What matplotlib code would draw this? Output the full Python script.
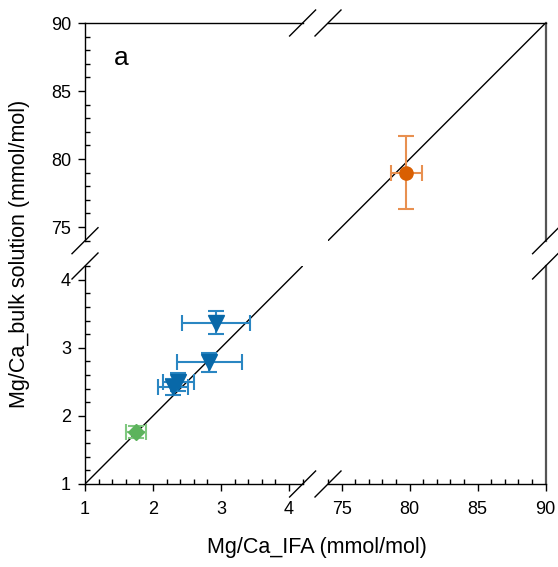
import numpy as np
import matplotlib
matplotlib.use('Agg')
import matplotlib.pyplot as plt
from matplotlib.lines import Line2D
from matplotlib.ticker import MultipleLocator

plt.rcParams['font.family'] = ['Liberation Sans', 'DejaVu Sans']

# data (Mg/Ca, mmol/mol)
blue_x    = [2.92, 2.83, 2.37, 2.30]
blue_xerr = [0.50, 0.48, 0.23, 0.22]
blue_y    = [3.37, 2.79, 2.50, 2.42]
blue_yerr = [0.17, 0.14, 0.13, 0.12]

green_x, green_xerr = [1.75], [0.145]
green_y, green_yerr = [1.76], [0.085]

orange_x, orange_xerr = [79.75], [1.15]
orange_y, orange_yerr = [79.0], [2.7]

low_lim  = (1, 4.2)
high_lim = (74, 90)

W, H = 558, 567
fig = plt.figure(figsize=(W/100, H/100), dpi=100)

# panel geometry in pixels
x0, x1, x2, x3 = 85, 302.6, 328, 545.6
y_top, y_b1, y_b2, y_bot = 23, 240.7, 266, 484

def px_axes(l, r, t, b):
    return fig.add_axes([l/W, 1-b/H, (r-l)/W, (b-t)/H])

ax_bl = px_axes(x0, x1, y_b2, y_bot)
ax_tl = px_axes(x0, x1, y_top, y_b1)
ax_br = px_axes(x2, x3, y_b2, y_bot)
ax_tr = px_axes(x2, x3, y_top, y_b1)

ax_bl.set_xlim(low_lim);  ax_bl.set_ylim(low_lim)
ax_tl.set_xlim(low_lim);  ax_tl.set_ylim(high_lim)
ax_br.set_xlim(high_lim); ax_br.set_ylim(low_lim)
ax_tr.set_xlim(high_lim); ax_tr.set_ylim(high_lim)

for ax in (ax_bl, ax_tl, ax_br, ax_tr):
    ax.patch.set_alpha(0)
    for s in ax.spines.values():
        s.set_visible(False)
        s.set_linewidth(1.0)
    ax.tick_params(which='major', direction='out', length=5, width=1, labelsize=13)
    ax.tick_params(which='minor', direction='in', length=3.5, width=1)
    ax.tick_params(left=False, bottom=False, labelleft=False, labelbottom=False,
                   which='both')

# left spine + y ticks
for ax, maj, mnr in ((ax_bl, 1, 0.2), (ax_tl, 5, 1)):
    ax.spines['left'].set_visible(True)
    ax.yaxis.set_major_locator(MultipleLocator(maj))
    ax.yaxis.set_minor_locator(MultipleLocator(mnr))
    ax.tick_params(axis='y', which='both', left=True)
    ax.tick_params(axis='y', which='major', labelleft=True, pad=5)

# bottom spine + x ticks
for ax, maj, mnr in ((ax_bl, 1, 0.2), (ax_br, 5, 1)):
    ax.spines['bottom'].set_visible(True)
    ax.xaxis.set_major_locator(MultipleLocator(maj))
    ax.xaxis.set_minor_locator(MultipleLocator(mnr))
    ax.tick_params(axis='x', which='both', bottom=True)
    ax.tick_params(axis='x', which='major', labelbottom=True, pad=7)

ax_tl.spines['top'].set_visible(True)
ax_tr.spines['top'].set_visible(True)
ax_tr.spines['right'].set_visible(True)
ax_br.spines['right'].set_visible(True)
for ax in (ax_tr, ax_br):
    ax.spines['right'].set_color('#555555')
    ax.spines['right'].set_linewidth(1.6)

# 1:1 line
ax_bl.plot(low_lim, low_lim, color='k', lw=1)
ax_tr.plot(high_lim, high_lim, color='k', lw=1)

eb = dict(linestyle='none', capsize=5.5, elinewidth=1.5, capthick=1.5, zorder=3)
ax_bl.errorbar(blue_x, blue_y, xerr=blue_xerr, yerr=blue_yerr, marker='v',
               ms=11, color='#0868a8', ecolor='#2a86c2', **eb)
ax_bl.errorbar(green_x, green_y, xerr=green_xerr, yerr=green_yerr, marker='D',
               ms=8, color='#5cb35c', ecolor='#80c880', **eb)
ax_tr.errorbar(orange_x, orange_y, xerr=orange_xerr, yerr=orange_yerr, marker='o',
               ms=9.5, color='#d95f02', ecolor='#e89050', **eb)

# break marks
d = 13
def slash(xc, yc):
    xs = [(xc-d)/W, (xc+d)/W]
    ys = [1-(yc+d)/H, 1-(yc-d)/H]
    fig.add_artist(Line2D(xs, ys, color='k', lw=1, transform=fig.transFigure))

for xc in (x1, x2):
    slash(xc, y_top)
    slash(xc, y_bot)
for yc in (y_b1, y_b2):
    slash(x0, yc)
    slash(x3, yc)

fig.text(121/W, 1-58/H, 'a', fontsize=19, ha='center', va='center')
fig.text(317/W, 1-548/H, 'Mg/Ca_IFA (mmol/mol)', fontsize=15.5,
         ha='center', va='center')
fig.text(20/W, 1-(y_top+y_bot)/2/H, 'Mg/Ca_bulk solution (mmol/mol)', fontsize=15.5,
         ha='center', va='center', rotation=90)

fig.savefig('out.png', dpi=100)
